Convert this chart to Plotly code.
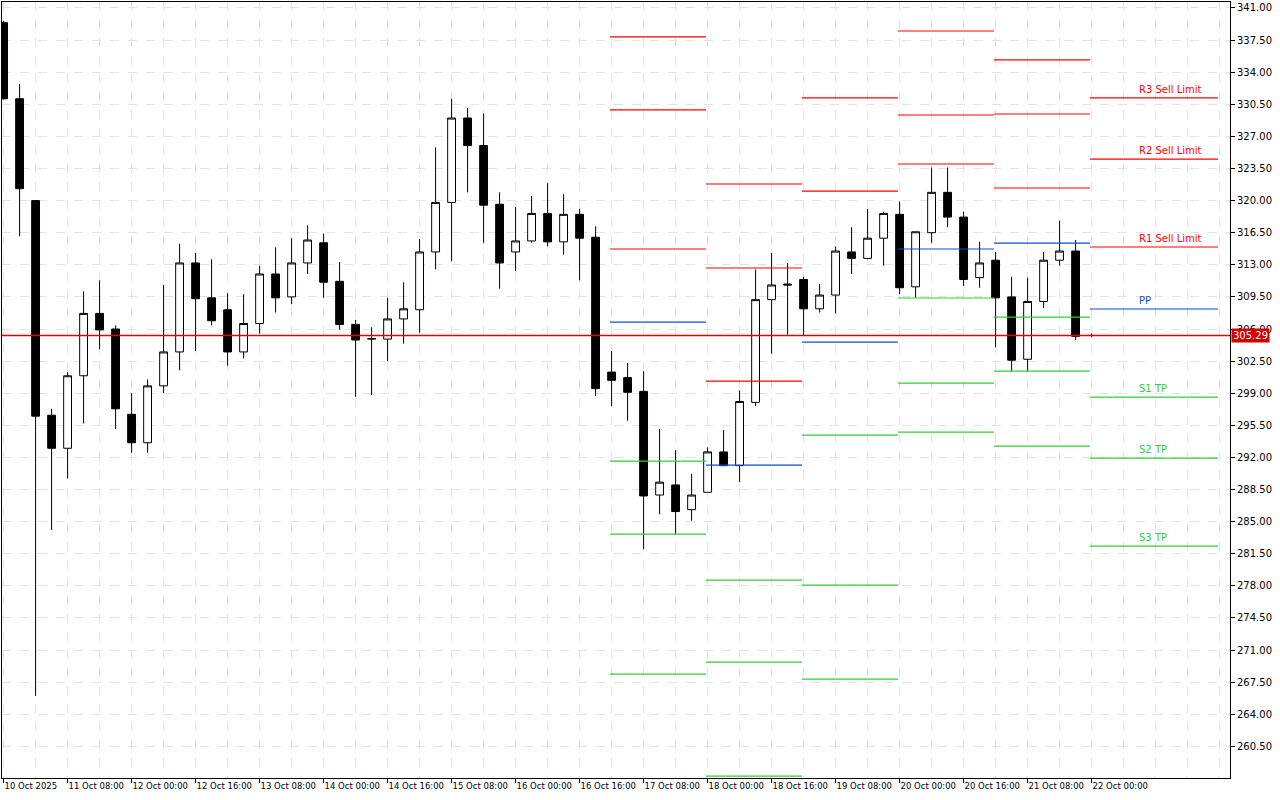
import plotly.graph_objects as go

# ---------------------------------------------------------------------------
# 4H candles, 10 Oct 2025 16:00 -> 22 Oct 2025 00:00 (index 0..68)
# ---------------------------------------------------------------------------
opens = [339.4, 331.1, 320.0, 296.6, 293.0, 300.9, 307.7, 306.0, 296.7, 293.6,
         299.8, 303.5, 313.2, 309.4, 308.1, 303.5, 306.6, 312.0, 309.5, 313.2,
         315.4, 311.2, 306.5, 304.9, 304.9, 307.1, 308.1, 314.4, 319.8, 329.0,
         326.0, 319.6, 314.4, 315.6, 318.6, 315.5, 318.5, 316.0, 301.3, 300.7,
         299.2, 287.9, 289.0, 286.3, 288.2, 292.6, 291.1, 298.0, 309.2, 310.9,
         311.4, 308.2, 309.7, 314.4, 313.7, 315.9, 318.5, 310.6, 316.5, 320.9,
         318.2, 311.6, 313.5, 309.5, 302.7, 309.0, 313.5, 314.5, 305.3]
highs = [339.6, 332.7, 320.0, 297.3, 301.3, 310.1, 311.3, 306.4, 299.0, 300.5,
         310.8, 315.3, 314.3, 313.6, 309.9, 309.8, 312.9, 314.9, 315.9, 317.3,
         316.4, 313.3, 307.0, 306.2, 309.4, 311.1, 315.8, 325.8, 331.1, 330.1,
         329.5, 320.9, 319.3, 320.5, 321.9, 320.7, 319.1, 317.2, 303.6, 302.3,
         301.4, 295.1, 292.8, 290.2, 293.1, 295.0, 299.3, 312.5, 314.3, 313.2,
         311.7, 310.9, 315.0, 317.1, 319.1, 318.8, 319.9, 316.6, 323.6, 323.6,
         318.8, 315.5, 314.4, 311.7, 311.6, 314.4, 317.8, 315.7, 305.5]
lows = [331.0, 316.1, 266.0, 284.1, 289.7, 295.7, 303.8, 295.1, 292.5, 292.5,
        299.0, 301.5, 303.6, 306.4, 302.0, 302.8, 305.5, 307.8, 308.7, 312.0,
        309.4, 305.9, 298.6, 298.8, 302.5, 304.4, 305.6, 312.5, 313.4, 320.9,
        315.4, 310.4, 312.3, 315.4, 315.0, 314.1, 311.3, 298.7, 297.6, 296.0,
        282.0, 285.8, 283.6, 285.1, 288.2, 291.1, 289.3, 297.6, 303.3, 305.4,
        305.3, 307.8, 307.7, 312.0, 313.6, 312.9, 309.8, 309.4, 315.4, 317.1,
        310.7, 310.5, 304.0, 301.4, 301.4, 308.3, 312.9, 304.8, 305.1]
closes = [331.1, 321.3, 296.5, 293.0, 300.9, 307.7, 305.9, 297.3, 293.6, 299.8,
          303.5, 313.2, 309.3, 306.9, 303.5, 306.6, 312.0, 309.4, 313.2, 315.7,
          311.1, 306.5, 304.8, 304.95, 307.1, 308.2, 314.4, 319.8, 329.0, 326.0,
          319.5, 313.2, 315.6, 318.6, 315.5, 318.5, 315.9, 299.5, 300.4, 299.1,
          287.8, 289.3, 286.1, 287.9, 292.6, 291.1, 298.1, 309.2, 310.8, 310.8,
          308.2, 309.7, 314.5, 313.7, 315.9, 318.6, 310.5, 316.6, 320.9, 318.2,
          311.4, 313.2, 309.4, 302.6, 309.0, 313.5, 314.5, 305.2, 305.29]

x_labels = ["10 Oct 2025", "11 Oct 08:00", "12 Oct 00:00", "12 Oct 16:00",
            "13 Oct 08:00", "14 Oct 00:00", "14 Oct 16:00", "15 Oct 08:00",
            "16 Oct 00:00", "16 Oct 16:00", "17 Oct 08:00", "18 Oct 00:00",
            "18 Oct 16:00", "19 Oct 08:00", "20 Oct 00:00", "20 Oct 16:00",
            "21 Oct 08:00", "22 Oct 00:00"]

# daily pivot levels (start candle index of each day)
day_start = [38, 44, 50, 56, 62, 68]
day_end = [44, 50, 56, 62, 68, 76]
R3 = [337.84, 321.81, None, 338.49, 335.33, 331.19]
R2 = [329.88, 312.65, 331.19, 329.33, 329.44, 324.53]
R1 = [314.72, 300.32, 321.04, 323.99, 321.37, 314.94]
PP = [306.76, 291.16, 304.58, 314.72, 315.37, 308.18]
S1 = [291.60, 278.62, 294.43, 309.38, 307.30, 298.58]
S2 = [283.64, 269.68, 278.08, 300.11, 301.41, 291.93]
S3 = [268.37, 257.25, 267.83, 294.76, 293.23, 282.33]

last_price = 305.29

RED = "#ff0000"
BLUE = "#0a4fd0"
GREEN = "#32cd32"

fig = go.Figure()

idx = list(range(len(opens)))
fig.add_trace(go.Candlestick(
    x=idx, open=opens, high=highs, low=lows, close=closes,
    increasing=dict(fillcolor="white", line=dict(color="black", width=1)),
    decreasing=dict(fillcolor="black", line=dict(color="black", width=1)),
    whiskerwidth=0, showlegend=False, hoverinfo="skip",
))

levels = [(R3, RED), (R2, RED), (R1, RED), (PP, BLUE),
          (S1, GREEN), (S2, GREEN), (S3, GREEN)]
for vals, col in levels:
    xs, ys = [], []
    for s, e, v in zip(day_start, day_end, vals):
        if v is None:
            continue
        xs += [s - 0.1, e - 0.1, None]
        ys += [v, v, None]
    fig.add_trace(go.Scatter(
        x=xs, y=ys, mode="lines", line=dict(color=col, width=1.2),
        showlegend=False, hoverinfo="skip", connectgaps=False,
    ))

# current price line
fig.add_trace(go.Scatter(
    x=[-0.1, 76.65], y=[last_price, last_price], mode="lines",
    line=dict(color="#e80000", width=1.3), showlegend=False, hoverinfo="skip",
))

# labels for current day levels
names = ["R3 Sell Limit", "R2 Sell Limit", "R1 Sell Limit", "PP", "S1 TP", "S2 TP", "S3 TP"]
for name, (vals, col) in zip(names, levels):
    fig.add_annotation(
        x=70.85, y=vals[-1], text=name, showarrow=False,
        xanchor="left", yanchor="bottom", yshift=1,
        font=dict(family="DejaVu Sans", size=10, color=col),
    )

# price tag on axis
fig.add_annotation(
    x=1, xref="paper", xanchor="left", xshift=1, y=last_price, text=f"{last_price:.2f}",
    showarrow=False, bgcolor="#d40000", font=dict(family="DejaVu Sans", size=10, color="white"),
    borderpad=1,
)

y_ticks = [260.5 + 3.5 * k for k in range(24)]

fig.update_layout(
    width=1280, height=800,
    margin=dict(l=2, r=50, t=2, b=22, autoexpand=False),
    plot_bgcolor="white", paper_bgcolor="white",
    font=dict(family="DejaVu Sans", size=10, color="black"),
    xaxis=dict(
        range=[-0.1, 76.65], rangeslider=dict(visible=False), automargin=False,
        tickmode="array", tickvals=[4 * k for k in range(len(x_labels))], ticktext=x_labels,
        ticks="outside", ticklen=4, tickcolor="black", ticklabelposition="outside right",
        tickangle=0, showgrid=False, zeroline=False,
        showline=True, linecolor="black", mirror=True, showspikes=False,
        minor=dict(tick0=0, dtick=2, showgrid=True, gridcolor="#e3e3e3", griddash="dash", ticks=""),
        tickfont=dict(size=8.5),
    ),
    yaxis=dict(
        range=[257.05, 341.65], side="right", automargin=False,
        tickmode="array", tickvals=y_ticks, tickformat=".2f",
        ticks="outside", ticklen=4, tickcolor="black",
        showgrid=True, gridcolor="#e3e3e3", griddash="dash", zeroline=False,
        showline=True, linecolor="black", mirror=True, showspikes=False,
    ),
    hovermode=False,
)

fig.write_html(
    "out.html",
    config={"displayModeBar": False},
    post_script="document.body.style.margin='0';window.dispatchEvent(new Event('resize'));",
)
